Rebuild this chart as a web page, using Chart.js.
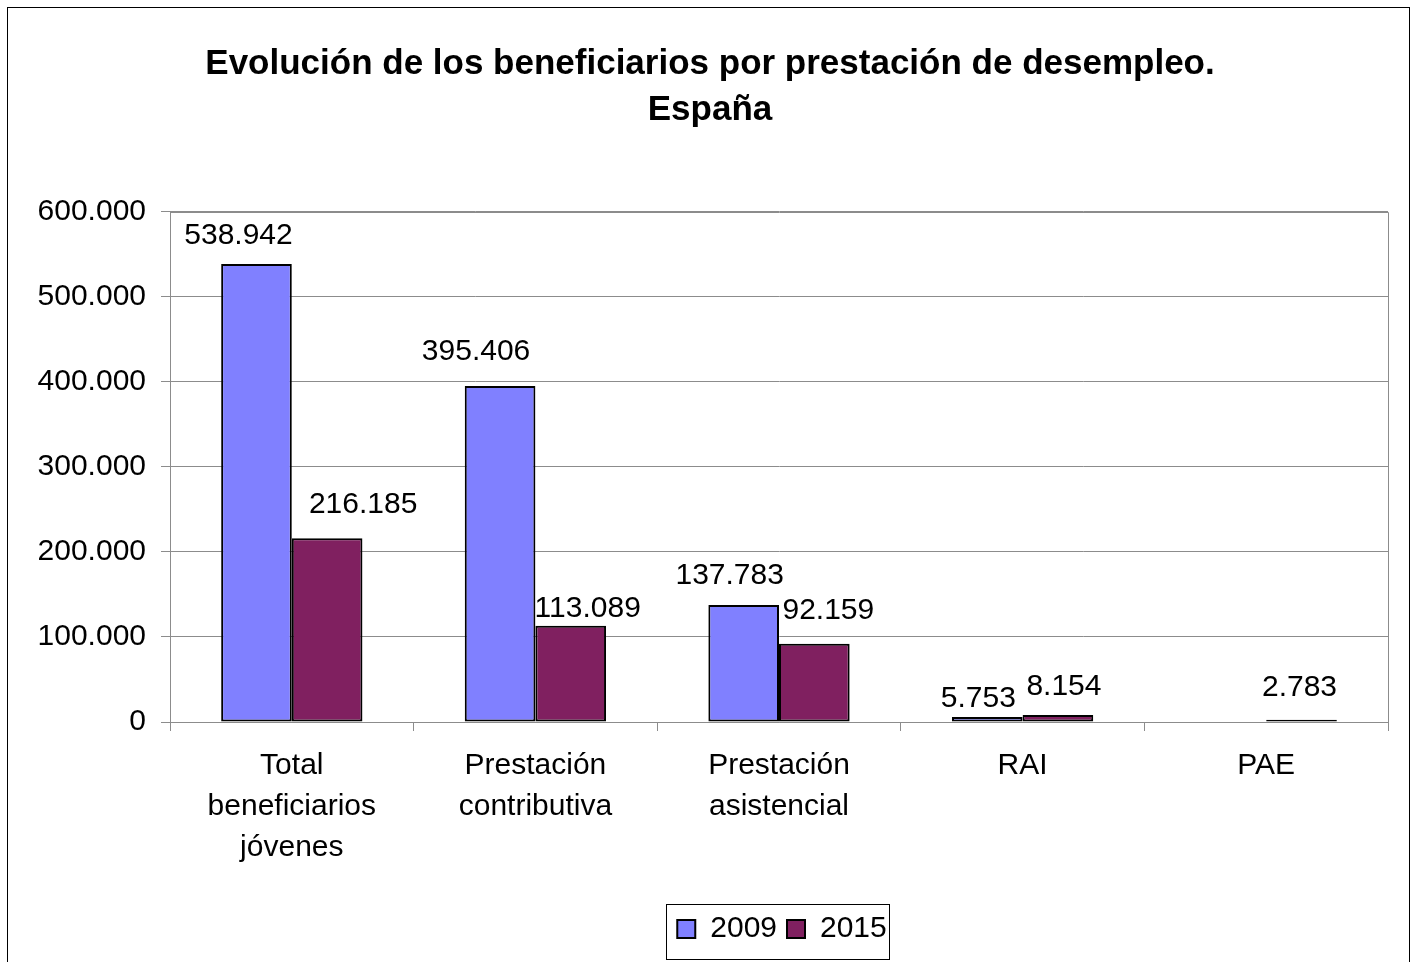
<!DOCTYPE html>
<html>
<head>
<meta charset="utf-8">
<script src="https://cdn.jsdelivr.net/npm/chart.js@4/dist/chart.umd.min.js"></script>
<style>
  html, body { margin: 0; padding: 0; background: #fff; }
  #wrap { width: 1415px; height: 962px; position: relative; }
</style>
</head>
<body>
<div id="wrap"><canvas id="c" width="1415" height="962"></canvas></div>
<script>
const categories = [
  ['Total', 'beneficiarios', 'jóvenes'],
  ['Prestación', 'contributiva'],
  ['Prestación', 'asistencial'],
  'RAI',
  'PAE'
];
const seriesNames = ['2009', '2015'];
const values2009 = [538942, 395406, 137783, 5753, null];
const values2015 = [216185, 113089, 92159, 8154, 2783];
const yTicks = [0, 100000, 200000, 300000, 400000, 500000, 600000];
const titleLines = ['Evolución de los beneficiarios por prestación de desempleo.', 'España'];

const FONT = 'Arial, "Liberation Sans", sans-serif';

function fmt(v) {
  return String(Math.round(v)).replace(/\B(?=(\d{3})+(?!\d))/g, '.');
}

// manual label nudges (as in the original, labels were moved to avoid overlap)
const labelNudge = {
  dx: [[-18, -24, -14, -9, 0], [36, 17, 14, 6, -2]],
  dy: [[1, -5, 0, 11, 0], [-4, 12, -4, 1, -3]]
};

const bgPlugin = {
  id: 'bg',
  beforeDraw(chart) {
    const ctx = chart.ctx;
    ctx.save();
    ctx.fillStyle = '#fff';
    ctx.fillRect(0, 0, chart.width, chart.height);
    ctx.strokeStyle = '#000';
    ctx.lineWidth = 1;
    ctx.strokeRect(7.5, 7.5, 1402, 970);
    ctx.restore();
  },
  afterLayout(chart) {
    const lg = chart.legend;
    if (lg) { lg.left += 72; lg.right += 72; }
  },
  beforeDatasetsDraw(chart) {
    const a = chart.chartArea;
    const ctx = chart.ctx;
    ctx.save();
    ctx.strokeStyle = '#8c8c8c';
    ctx.lineWidth = 1;
    ctx.beginPath();
    ctx.moveTo(Math.round(a.left) + 0.5, Math.round(a.top) + 0.5);
    ctx.lineTo(Math.round(a.right) + 0.5, Math.round(a.top) + 0.5);
    ctx.lineTo(Math.round(a.right) + 0.5, Math.round(a.bottom) + 0.5);
    ctx.stroke();
    ctx.restore();
  },
  afterDatasetsDraw(chart) {
    const ctx = chart.ctx;
    ctx.save();
    ctx.font = '30px ' + FONT;
    ctx.fillStyle = '#000';
    ctx.textAlign = 'center';
    ctx.textBaseline = 'alphabetic';
    chart.data.datasets.forEach((ds, di) => {
      const meta = chart.getDatasetMeta(di);
      meta.data.forEach((el, i) => {
        const v = ds.data[i];
        if (v === null || v === undefined) return;
        ctx.fillText(fmt(v), el.x + labelNudge.dx[di][i], el.y - 21 + labelNudge.dy[di][i]);
      });
    });
    ctx.restore();
  },
  afterDraw(chart) {
    const lg = chart.legend;
    if (!lg || !lg.legendHitBoxes.length) return;
    const hb = lg.legendHitBoxes;
    const l = hb[0].left - 11;
    const r = hb[hb.length - 1].left + hb[hb.length - 1].width + 3;
    const ctx = chart.ctx;
    ctx.save();
    ctx.strokeStyle = '#000';
    ctx.lineWidth = 1;
    ctx.strokeRect(Math.round(l) + 0.5, Math.round(lg.top) + 0.5, Math.round(r - l), 55);
    ctx.restore();
  }
};

new Chart(document.getElementById('c'), {
  type: 'bar',
  data: {
    labels: categories,
    datasets: [
      {
        label: seriesNames[0],
        data: values2009,
        backgroundColor: '#8080FF',
        borderColor: '#000',
        borderWidth: 2,
        borderSkipped: false
      },
      {
        label: seriesNames[1],
        data: values2015,
        backgroundColor: '#802060',
        borderColor: '#000',
        borderWidth: 2,
        borderSkipped: false
      }
    ]
  },
  options: {
    responsive: false,
    animation: false,
    devicePixelRatio: 1,
    layout: { padding: { left: 32, right: 27, top: 0, bottom: 8 } },
    datasets: { bar: { categoryPercentage: 0.58, barPercentage: 1.0 } },
    plugins: {
      title: {
        display: true,
        text: titleLines,
        color: '#000',
        font: { family: FONT, size: 35, weight: 'bold', lineHeight: 1.314 },
        padding: { top: 41, bottom: 79 }
      },
      legend: {
        display: true,
        position: 'bottom',
        labels: {
          color: '#000',
          font: { family: FONT, size: 30 },
          boxWidth: 18,
          boxHeight: 18,
          padding: 10
        }
      },
      tooltip: { enabled: false }
    },
    scales: {
      x: {
        grid: {
          display: true,
          drawOnChartArea: false,
          drawTicks: true,
          tickLength: 9,
          color: '#8c8c8c',
          offset: true
        },
        border: { display: true, color: '#8c8c8c', width: 1 },
        ticks: {
          color: '#000',
          font: { family: FONT, size: 30, lineHeight: 1.367 },
          padding: 14,
          maxRotation: 0,
          autoSkip: false
        },
        afterFit(scale) { scale.height = 182; }
      },
      y: {
        min: 0,
        max: 600000,
        grid: {
          color: '#8c8c8c',
          tickLength: 9,
          drawTicks: true
        },
        border: { display: true, color: '#8c8c8c', width: 1 },
        ticks: {
          color: '#000',
          font: { family: FONT, size: 30 },
          padding: 15,
          stepSize: 100000,
          callback: (v) => fmt(v)
        },
        afterBuildTicks(scale) { scale.ticks = yTicks.map(v => ({ value: v })); },
        afterFit(scale) { scale.width = 138; }
      }
    }
  },
  plugins: [bgPlugin]
});
</script>
</body>
</html>
